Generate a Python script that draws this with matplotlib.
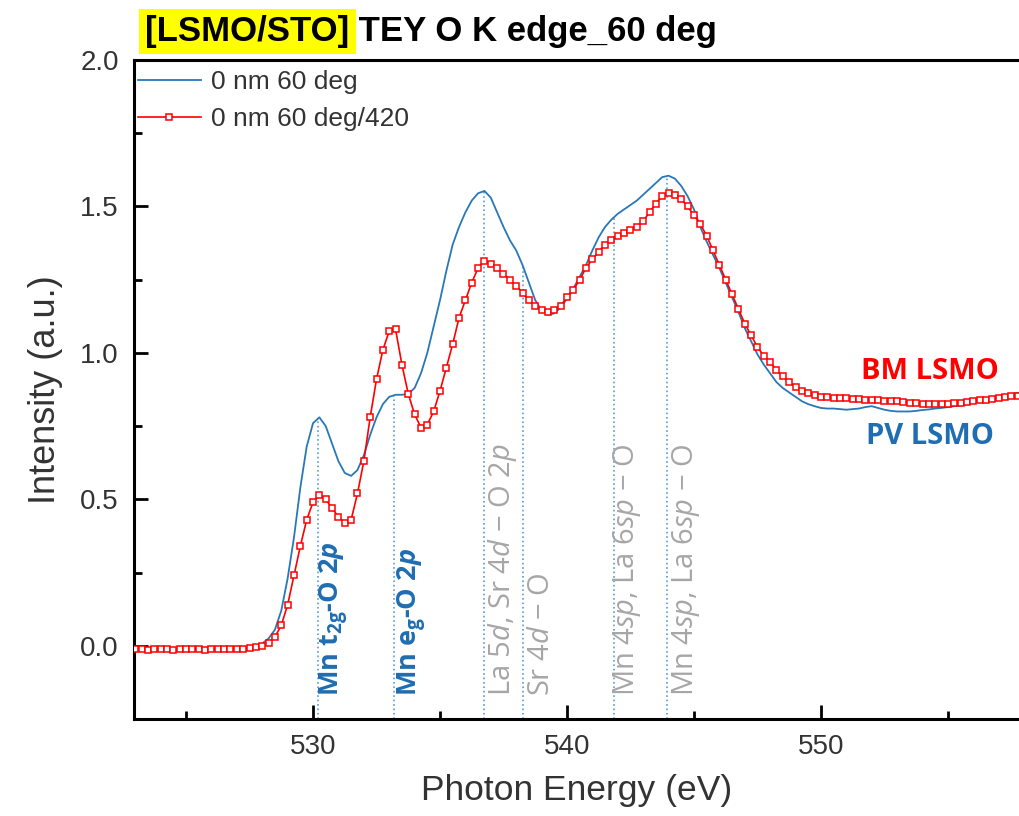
import numpy as np
import matplotlib.pyplot as plt
from matplotlib.ticker import MultipleLocator

plt.rcParams['font.family'] = ['Liberation Sans', 'DejaVu Sans']
plt.rcParams['mathtext.fontset'] = 'custom'
plt.rcParams['mathtext.rm'] = 'Open Sans'
plt.rcParams['mathtext.it'] = 'Open Sans:italic'
plt.rcParams['mathtext.bf'] = 'Open Sans:bold'
plt.rcParams['mathtext.bfit'] = 'Open Sans:italic:bold'

# scan grid, 0.25 eV step
energy = np.arange(523.0, 558.01, 0.25)

# 0 nm 60 deg (PV LSMO)
pv_lsmo = [
    -0.010, -0.012, -0.010, -0.011, -0.009, -0.010, -0.012, -0.011, -0.010, -0.009,
    -0.010, -0.011, -0.012, -0.010, -0.009, -0.010, -0.011, -0.008, -0.006, -0.002,
    0.008, 0.025, 0.055, 0.12,
    0.23, 0.37, 0.54, 0.68,
    0.76, 0.78, 0.75, 0.69,
    0.63, 0.59, 0.58, 0.60,
    0.65, 0.72, 0.78, 0.825,
    0.85, 0.857, 0.857, 0.86,
    0.88, 0.93, 1.00, 1.09,
    1.18, 1.28, 1.37, 1.43,
    1.48, 1.52, 1.545, 1.553,
    1.53, 1.48, 1.43, 1.385,
    1.35, 1.30, 1.24, 1.18,
    1.145, 1.13, 1.135, 1.155,
    1.185, 1.22, 1.26, 1.30,
    1.35, 1.395, 1.43, 1.455,
    1.475, 1.49, 1.505, 1.52,
    1.54, 1.56, 1.58, 1.60,
    1.605, 1.595, 1.57, 1.535,
    1.49, 1.43, 1.38, 1.335,
    1.29, 1.24, 1.19, 1.14,
    1.085, 1.04, 0.995, 0.96,
    0.93, 0.90, 0.88, 0.865,
    0.85, 0.835, 0.825, 0.818,
    0.812, 0.81, 0.81, 0.808,
    0.806, 0.808, 0.81, 0.815,
    0.818, 0.812, 0.806, 0.802,
    0.80, 0.80, 0.80, 0.802,
    0.805, 0.807, 0.81, 0.812,
    0.815, 0.818, 0.82, 0.825,
    0.83, 0.835, 0.84, 0.845,
    0.85, 0.855, 0.86, 0.863,
    0.866,
]

# 0 nm 60 deg / 420 (BM LSMO)
bm_lsmo = [
    -0.012, -0.010, -0.013, -0.011, -0.010, -0.012, -0.014, -0.011, -0.010, -0.012,
    -0.011, -0.013, -0.010, -0.012, -0.011, -0.010, -0.012, -0.010, -0.008, -0.005,
    0.0, 0.01, 0.03, 0.07,
    0.14, 0.24, 0.34, 0.43,
    0.49, 0.515, 0.50, 0.47,
    0.44, 0.42, 0.43, 0.52,
    0.63, 0.78, 0.91, 1.01,
    1.075, 1.08, 0.96, 0.86,
    0.79, 0.745, 0.755, 0.80,
    0.87, 0.95, 1.03, 1.12,
    1.18, 1.24, 1.29, 1.315,
    1.305, 1.29, 1.27, 1.25,
    1.23, 1.205, 1.18, 1.16,
    1.145, 1.14, 1.145, 1.16,
    1.19, 1.215, 1.25, 1.29,
    1.32, 1.345, 1.37, 1.385,
    1.40, 1.41, 1.42, 1.43,
    1.45, 1.48, 1.51, 1.535,
    1.545, 1.54, 1.525, 1.50,
    1.47, 1.44, 1.40, 1.35,
    1.30, 1.25, 1.20, 1.15,
    1.10, 1.06, 1.02, 0.99,
    0.97, 0.94, 0.92, 0.90,
    0.885, 0.87, 0.862, 0.855,
    0.85, 0.848, 0.846, 0.845,
    0.845, 0.843, 0.842, 0.84,
    0.84, 0.838, 0.836, 0.835,
    0.835, 0.833, 0.83, 0.828,
    0.826, 0.825, 0.825, 0.825,
    0.826, 0.828, 0.83, 0.833,
    0.836, 0.838, 0.84, 0.843,
    0.846, 0.85, 0.852, 0.854,
    0.856,
]

# peak assignments
peak_pos = [530.2, 533.2, 536.75, 538.25, 541.85, 543.95]
label_pos = [530.85, 533.9, 537.45, 539.0, 542.35, 544.7]
label_txt = [
    r'Mn t$_{\mathbf{2g}}$-O 2$\mathbfit{p}$',
    r'Mn e$_{\mathbf{g}}$-O 2$\mathbfit{p}$',
    'La 5$d$, Sr 4$d$ \u2212 O 2$p$',
    'Sr 4$d$ \u2212 O',
    'Mn 4$sp$, La 6$sp$ \u2212 O',
    'Mn 4$sp$, La 6$sp$ \u2212 O',
]
label_bold = [True, True, False, False, False, False]

blue = '#2878b8'
label_blue = '#1f6db2'
gray = '#a6a6a6'
tick_col = '#333333'

fig = plt.figure(figsize=(10.19, 8.16), dpi=100)
ax = fig.add_axes([134 / 1019, 1 - 719 / 816, 1 - 134 / 1019, (719 - 60) / 816])

ax.plot(energy, pv_lsmo, color=blue, lw=1.3, label='0 nm 60 deg', zorder=3)
ax.plot(energy, bm_lsmo, color='#ff0000', lw=1.2, marker='s', ms=4,
        mfc='white', mec='#ff0000', mew=1.1, label='0 nm 60 deg/420', zorder=4)

# dotted guide lines from the axis up to the PV curve
tops = np.interp(peak_pos, energy, pv_lsmo)
ax.vlines(peak_pos, -0.25, tops, colors='#5b9bd5', linestyles=':', lw=1.2, zorder=2)

for x, txt, b in zip(label_pos, label_txt, label_bold):
    ax.text(x, -0.17, txt, rotation=90, ha='center', va='bottom',
            fontsize=19.5 if b else 21, family=['Open Sans', 'DejaVu Sans'],
            color=label_blue if b else gray,
            fontweight='bold' if b else 'normal')

ax.text(554.3, 0.935, 'BM LSMO', color='#ff0000', fontsize=21, fontweight='bold',
        family=['Open Sans', 'DejaVu Sans'], ha='center', va='center')
ax.text(554.3, 0.713, 'PV LSMO', color=label_blue, fontsize=21, fontweight='bold',
        family=['Open Sans', 'DejaVu Sans'], ha='center', va='center')

ax.set_xlim(522.95, 557.8)
ax.set_ylim(-0.25, 2.0)
ax.xaxis.set_major_locator(MultipleLocator(10))
ax.xaxis.set_minor_locator(MultipleLocator(5))
ax.yaxis.set_major_locator(MultipleLocator(0.5))
ax.yaxis.set_minor_locator(MultipleLocator(0.25))
ax.yaxis.set_major_formatter(plt.FormatStrFormatter('%.1f'))

ax.tick_params(which='both', direction='in', width=2, colors='black',
               labelcolor=tick_col, labelsize=20, pad=11)
ax.tick_params(which='major', length=10)
ax.tick_params(which='minor', length=6)
for s in ['left', 'bottom', 'top']:
    ax.spines[s].set_linewidth(2.2)
ax.spines['right'].set_visible(False)

ax.set_xlabel('Photon Energy (eV)', fontsize=25.5, color=tick_col, labelpad=10)
ax.set_ylabel('Intensity (a.u.)', fontsize=26, color=tick_col, labelpad=12)

ax.legend(loc='upper left', frameon=False, fontsize=19, handlelength=2.4,
          handletextpad=0.4, borderaxespad=0.0, borderpad=0.2, labelspacing=0.5,
          labelcolor=tick_col, bbox_to_anchor=(-0.002, 0.993))

t1 = fig.text(145 / 1019, 1 - 41 / 816, '[LSMO/STO]', fontsize=25, fontweight='bold',
              va='baseline', bbox=dict(boxstyle='square,pad=0.18', fc='#ffff00', ec='none'))
ax.annotate(' TEY O K edge_60 deg', xy=(1, 0), xycoords=t1, va='bottom',
            fontsize=25, fontweight='bold', annotation_clip=False)

fig.savefig('out.png', dpi=100)
